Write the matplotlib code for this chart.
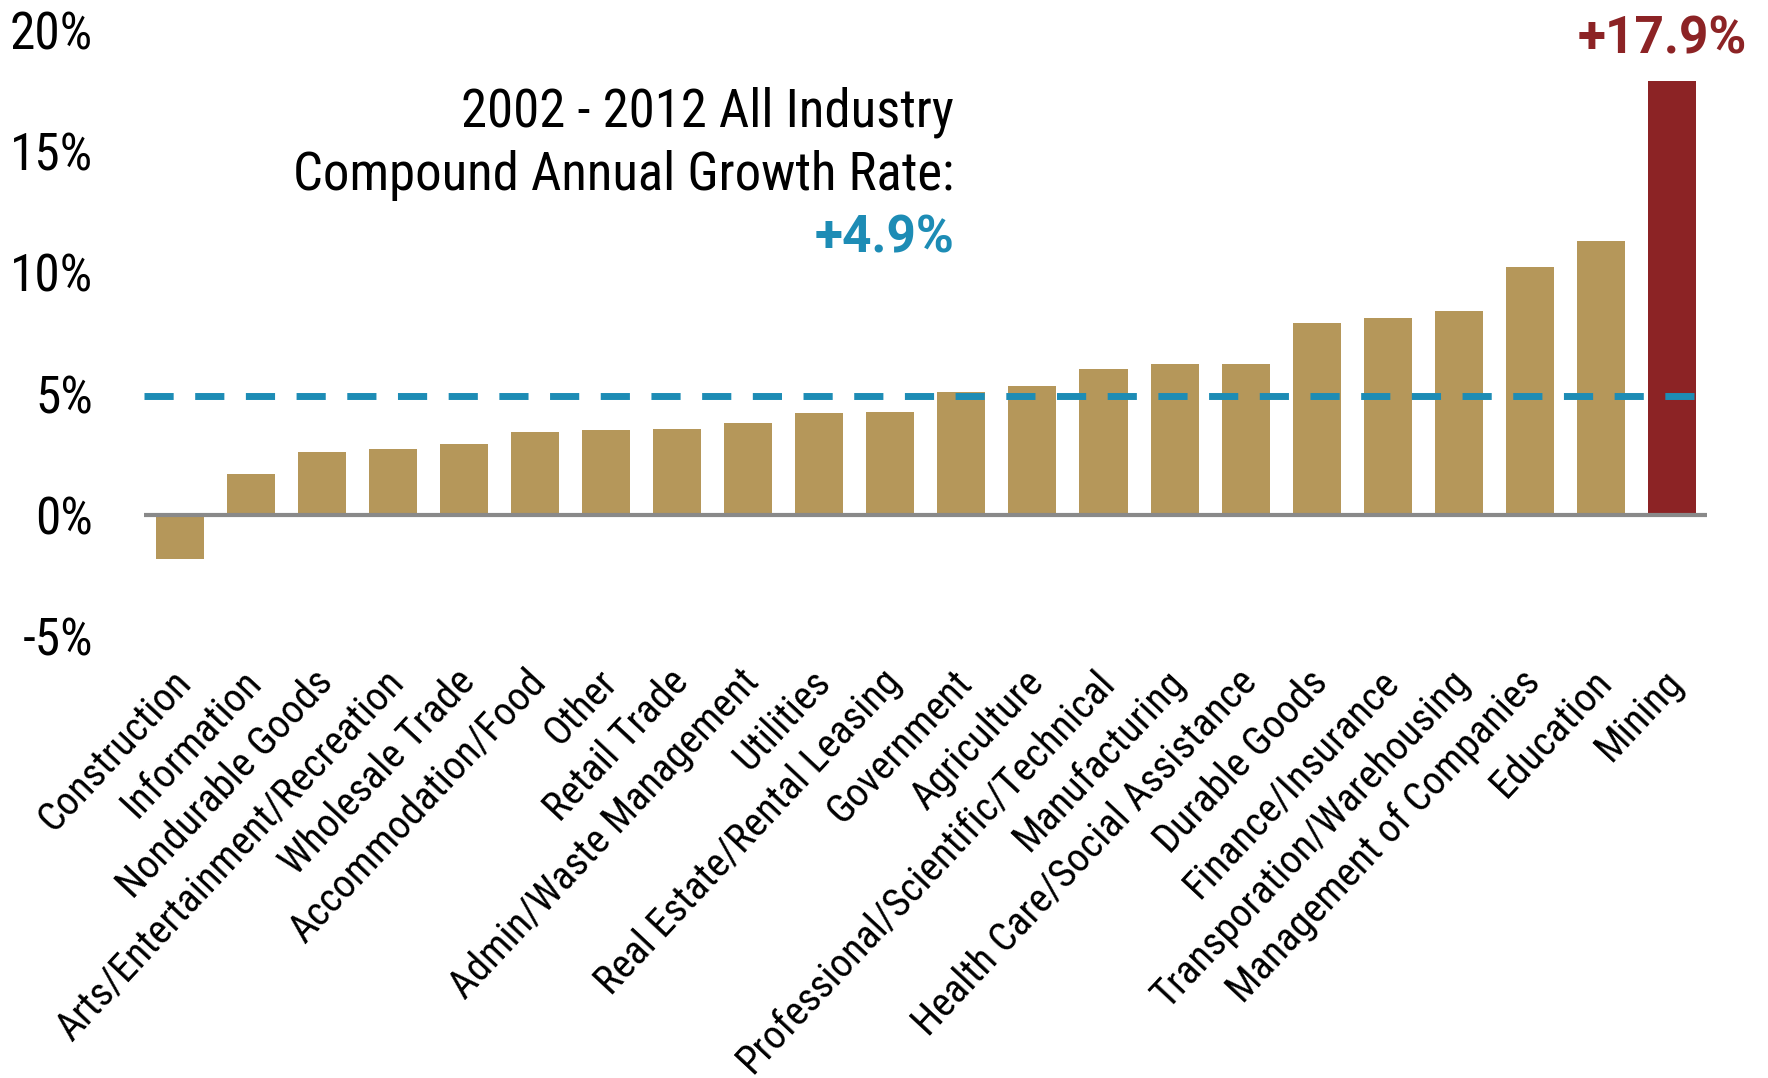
import matplotlib
matplotlib.use('Agg')
import matplotlib.pyplot as plt
import matplotlib.transforms as mtrans
from matplotlib import font_manager

industries = ['Construction', 'Information', 'Nondurable Goods', 'Arts/Entertainment/Recreation',
              'Wholesale Trade', 'Accommodation/Food', 'Other', 'Retail Trade',
              'Admin/Waste Management', 'Utilities', 'Real Estate/Rental Leasing', 'Government',
              'Agriculture', 'Professional/Scientific/Technical', 'Manufacturing',
              'Health Care/Social Assistance', 'Durable Goods', 'Finance/Insurance',
              'Transporation/Warehousing', 'Management of Companies', 'Education', 'Mining']
growth = [-1.83, 1.7, 2.6, 2.7, 2.9, 3.4, 3.5, 3.55, 3.8, 4.2, 4.25, 5.05,
          5.3, 6.0, 6.2, 6.2, 7.9, 8.1, 8.4, 10.2, 11.3, 17.9]
all_industry = 4.9
yticks = [-5, 0, 5, 10, 15, 20]

# narrow font if there is one
names = {f.name for f in font_manager.fontManager.ttflist}
font = 'DejaVu Sans'
for cand in ['Roboto Condensed', 'Liberation Sans Narrow', 'DejaVu Sans Condensed']:
    if cand in names:
        font = cand
        break
bold_font = 'Roboto' if 'Roboto' in names else font
plt.rcParams['font.family'] = [font, 'DejaVu Sans']

gold = '#B5975A'
red = '#8C2325'
blue = '#1D8CB5'

fig = plt.figure(figsize=(17.68, 10.78), dpi=100)
ax = fig.add_axes([0.0817, 0.41, 0.884, 0.5623])

colors = [gold] * (len(growth) - 1) + [red]
x = list(range(len(growth)))
ax.bar(x, growth, width=0.676, color=colors, zorder=2)
ax.axhline(0, color='#898989', lw=3, zorder=3)
ax.axhline(all_industry, color=blue, lw=5, dashes=(4.2, 3.1), zorder=4)

ax.set_xlim(-0.5, len(growth) - 0.5)
ax.set_ylim(-5, 20)
ax.set_yticks(yticks)
ax.set_yticklabels([f'{t}%' for t in yticks], fontsize=37)
ax.set_xticks(x)
ax.set_xticklabels(industries, rotation=47, ha='right', va='top', rotation_mode='anchor', fontsize=29)
ax.tick_params(axis='y', length=0, pad=37)
ax.tick_params(axis='x', length=0, pad=19)
shift = mtrans.ScaledTranslation(-10 / 100, 0, fig.dpi_scale_trans)
for lab in ax.get_xticklabels():
    lab.set_transform(lab.get_transform() + shift)
for s in ax.spines.values():
    s.set_visible(False)

ax.text(10.9, 16.6, '2002 - 2012 All Industry', ha='right', va='center', fontsize=38)
ax.text(10.9, 14.0, 'Compound Annual Growth Rate:', ha='right', va='center', fontsize=38)
ax.text(10.9, 11.4, f'+{all_industry}%', ha='right', va='center', fontsize=37,
        fontweight='bold', color=blue, family=bold_font)
ax.text(20.86, 19.6, f'+{growth[-1]}%', ha='center', va='center', fontsize=37,
        fontweight='bold', color=red, family=bold_font, clip_on=False)

plt.savefig('out.png')
